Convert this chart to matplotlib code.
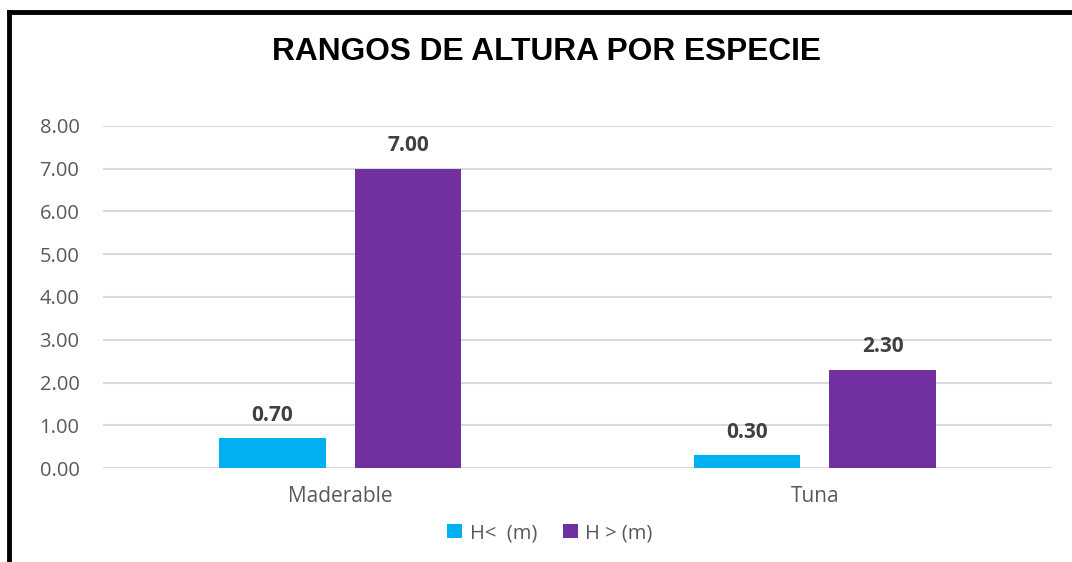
import matplotlib
matplotlib.use("Agg")
import matplotlib.pyplot as plt
from matplotlib.lines import Line2D
import numpy as np

categories = ["Maderable", "Tuna"]
series_names = ["H<  (m)", "H > (m)"]
h_min = [0.70, 0.30]
h_max = [7.00, 2.30]
colors = ["#00B0F0", "#7030A0"]
yticks = [0, 1, 2, 3, 4, 5, 6, 7, 8]

FONT = "Open Sans"
fig = plt.figure(figsize=(10.72, 5.62), dpi=100)
ax = fig.add_axes([103/1072, 1-468/562, (1052-103)/1072, (468-126)/562])

x = np.arange(len(categories))
w = 0.225
off = 0.143
b1 = ax.bar(x - off, h_min, w, color=colors[0], label=series_names[0], zorder=3)
b2 = ax.bar(x + off, h_max, w, color=colors[1], label=series_names[1], zorder=3)

for bars, vals in ((b1, h_min), (b2, h_max)):
    for r, v in zip(bars, vals):
        ax.annotate(f"{v:.2f}", (r.get_x() + r.get_width()/2, v), xytext=(0, 9),
                    textcoords="offset points", ha="center", va="bottom",
                    fontsize=15, fontweight="bold", color="#404040", family=FONT)

ax.set_xlim(-0.5, 1.5)
ax.set_ylim(0, 8)
ax.set_yticks(yticks)
ax.set_yticklabels([f"{t:.2f}" for t in yticks], fontsize=14.5, color="#595959", family=FONT)
ax.set_xticks(x)
ax.set_xticklabels(categories, fontsize=15, color="#595959", family=FONT)
ax.tick_params(axis="y", length=0, pad=17)
ax.tick_params(axis="x", length=0, pad=13)
ax.grid(axis="y", color="#D9D9D9", linewidth=1.5, zorder=0)
for s in ax.spines.values():
    s.set_visible(False)

fig.text(546/1072, 1-52/562, "RANGOS DE ALTURA POR ESPECIE", ha="center", va="center",
         fontsize=22.8, fontweight="bold", family="Liberation Sans", color="black")

leg = fig.legend(handles=[b1, b2], labels=series_names, loc="center", bbox_to_anchor=(550/1072, 1-533/562),
                 ncol=2, frameon=False, prop={"family": FONT, "size": 14.5}, handlelength=0.75,
                 handleheight=0.75, handletextpad=0.35, columnspacing=1.3)
for t in leg.get_texts():
    t.set_color("#595959")

fig.add_artist(Line2D([9/1072, 9/1072], [0, 1-12/562], transform=fig.transFigure, color="black", lw=3.5))
fig.add_artist(Line2D([9/1072, 1], [1-12/562, 1-12/562], transform=fig.transFigure, color="black", lw=3.5))

fig.savefig("out.png", dpi=100)
